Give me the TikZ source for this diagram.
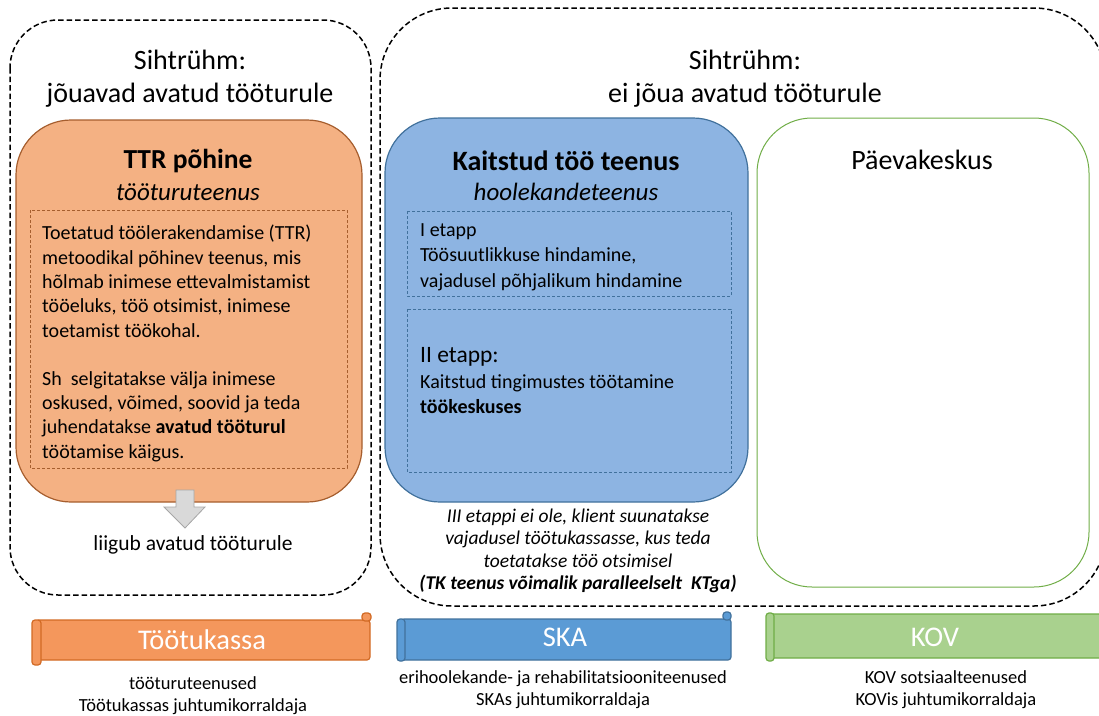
\documentclass[tikz,border=0pt]{standalone}
\usepackage{fontspec}
\setmainfont{Carlito}
\definecolor{orfill}{HTML}{F4B183}
\definecolor{ordraw}{HTML}{A65E2E}
\definecolor{bluefill}{HTML}{8DB4E2}
\definecolor{bluedraw}{HTML}{41719C}
\definecolor{greendraw}{HTML}{70AD47}
\definecolor{tkfill}{HTML}{F4975C}
\definecolor{tkdraw}{HTML}{D26A24}
\definecolor{skafill}{HTML}{5B9BD5}
\definecolor{kovfill}{HTML}{A9D18E}
\definecolor{arrfill}{HTML}{D9D9D9}
\definecolor{arrdraw}{HTML}{A6A6A6}
\tikzset{
  grp/.style={draw=black, line width=1.5pt, dash pattern=on 5.5pt off 3pt},
  innerdash/.style={line width=0.8pt, dash pattern=on 3pt off 2pt},
  txt/.style={inner sep=0pt, text=black},
  banner/.style={line width=1.2pt, rounded corners=3pt},
}
\begin{document}
\begin{tikzpicture}[x=1pt,y=-1pt]
\useasboundingbox (0,0) rectangle (1099,715);
% group boxes
\draw[grp, rounded corners=48pt] (10,20) rectangle (371,595);
\draw[grp, rounded corners=72pt] (380,8) rectangle (1106,606);
% titles
\node[txt, align=center, font=\fontsize{28}{33}\selectfont] (t1) at (190,79) {Sihtrühm:\\jõuavad avatud tööturule};
\node[txt, align=center, font=\fontsize{28}{33}\selectfont] (t2) at (745,79) {Sihtrühm:\\ei jõua avatud tööturule};
% orange box
\draw[draw=ordraw, fill=orfill, line width=1.2pt, rounded corners=55pt] (16,120) rectangle (362,502);
\node[txt, font=\fontsize{27.5}{30}\bfseries] (ttr) at (188,161) {TTR põhine};
\node[txt, font=\fontsize{25}{28}\itshape] (ttrsub) at (188,192) {tööturuteenus};
\draw[draw=ordraw, innerdash] (30,210) rectangle (347,468);
\node[txt, anchor=north west, align=left, font=\fontsize{20}{24.3}\selectfont] (ttrtext) at (42,225)
 {Toetatud töölerakendamise (TTR)\\metoodikal põhinev teenus, mis\\hõlmab inimese ettevalmistamist\\tööeluks, töö otsimist, inimese\\toetamist töökohal.\\[24pt]Sh\ \ selgitatakse välja inimese\\oskused, võimed, soovid ja teda\\juhendatakse \textbf{avatud tööturul}\\töötamise käigus.};
% gray arrow
\draw[draw=arrdraw, fill=arrfill, line width=0.8pt] (176,490) -- (194,490) -- (194,507) -- (205,507) -- (185,528) -- (164,507) -- (176,507) -- cycle;
\node[txt, font=\fontsize{21.5}{24}\selectfont] (liigub) at (193,545) {liigub avatud tööturule};
% blue box
\draw[draw=bluedraw, fill=bluefill, line width=1.2pt, rounded corners=55pt] (385,118) rectangle (748,502);
\node[txt, font=\fontsize{28}{30}\bfseries] (ktt) at (566,161) {Kaitstud töö teenus};
\node[txt, font=\fontsize{25}{28}\itshape] (kttsub) at (566,192) {hoolekandeteenus};
\draw[draw=bluedraw, innerdash] (407,211) rectangle (731,296);
\node[txt, anchor=north west, align=left, font=\fontsize{20}{25.5}\selectfont] (et1) at (420,223)
 {I etapp\\Töösuutlikkuse hindamine,\\vajadusel põhjalikum hindamine};
\draw[draw=bluedraw, innerdash] (407,309) rectangle (731,472);
\node[txt, anchor=west, font=\fontsize{23.5}{27}\selectfont] (et2) at (420,357) {II etapp:};
\node[txt, anchor=north west, align=left, font=\fontsize{20}{25}\selectfont] (et2t) at (420,374)
 {Kaitstud tingimustes töötamine\\\textbf{töökeskuses}};
\node[txt, align=center, font=\fontsize{19.5}{22.5}\itshape] (iii) at (578,551)
 {III etappi ei ole, klient suunatakse\\vajadusel töötukassasse, kus teda\\toetatakse töö otsimisel\\\textbf{(TK teenus võimalik paralleelselt\ \ KTga)}};
% green box
\draw[draw=greendraw, line width=1pt, rounded corners=55pt] (757,118) rectangle (1089,587);
\node[txt, font=\fontsize{28}{30}\selectfont] (pk) at (922,160) {Päevakeskus};
% banners
% Tootukassa
\draw[banner, draw=tkdraw, fill=tkfill] (36,620) rectangle (370,660);
\draw[banner, draw=tkdraw, fill=tkfill] (32,620) rectangle (41,665);
\draw[banner, draw=tkdraw, fill=tkfill] (362,613) rectangle (371,621);
\node[txt, text=white, font=\fontsize{28.5}{30}\selectfont] (tk) at (202,640) {Töötukassa};
% SKA
\draw[banner, draw=bluedraw, fill=skafill] (401,619) rectangle (731,660);
\draw[banner, draw=bluedraw, fill=skafill] (397,619) rectangle (405,661);
\draw[banner, draw=bluedraw, fill=skafill] (723,612) rectangle (731,620);
\node[txt, text=white, font=\fontsize{28.5}{30}\selectfont] (ska) at (565,637) {SKA};
% KOV
\draw[banner, draw=greendraw, fill=kovfill] (770,614) rectangle (1104,658);
\draw[banner, draw=greendraw, fill=kovfill] (766,613) rectangle (774,661);
\node[txt, text=white, font=\fontsize{28.5}{30}\selectfont] (kov) at (935,637) {KOV};
% captions
\node[txt, align=center, font=\fontsize{18.5}{22}\selectfont] (c1) at (193,696) {tööturuteenused\\Töötukassas juhtumikorraldaja};
\node[txt, align=center, font=\fontsize{18.5}{22}\selectfont] (c2) at (563,690) {erihoolekande- ja rehabilitatsiooniteenused\\SKAs juhtumikorraldaja};
\node[txt, align=center, font=\fontsize{18.5}{22}\selectfont] (c3) at (946,690) {KOV sotsiaalteenused\\KOVis juhtumikorraldaja};
\end{tikzpicture}
\end{document}
